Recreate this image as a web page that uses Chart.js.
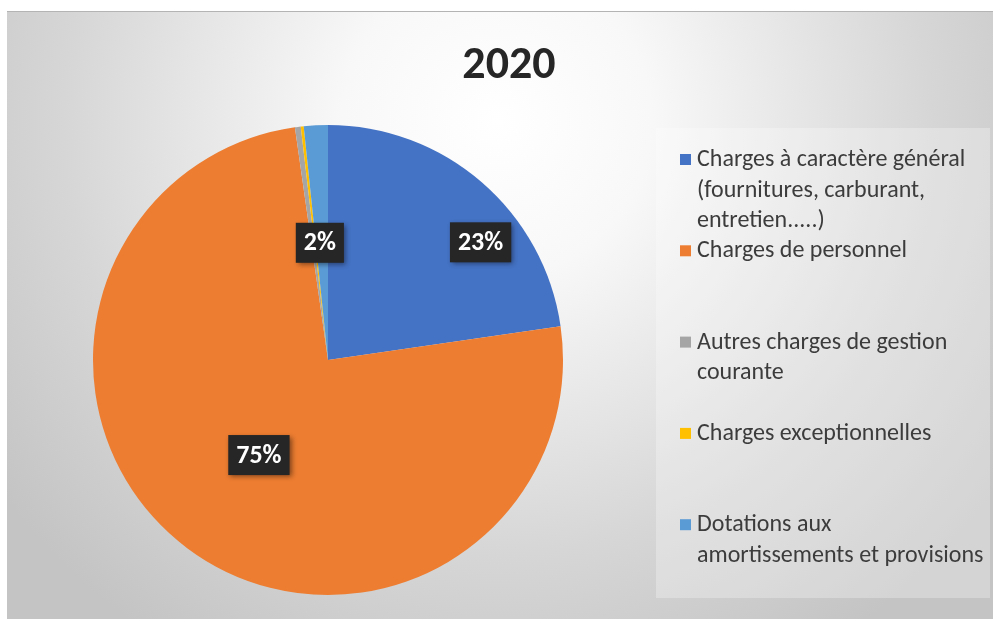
<!DOCTYPE html>
<html>
<head>
<meta charset="utf-8">
<script src="https://cdn.jsdelivr.net/npm/chart.js@4.4.0/dist/chart.umd.min.js"></script>
<style>
html, body { margin: 0; padding: 0; background: #fff; }
#wrap { position: absolute; left: 7px; top: 11px; width: 986px; height: 608px; }
</style>
</head>
<body>
<div id="wrap"><canvas id="myChart"></canvas></div>
<script>
var chartTitle = '2020';
// legend text, one entry per category, already split into lines
var categories = [
  ['Charges à caractère général', '(fournitures, carburant,', 'entretien.....)'],
  ['Charges de personnel'],
  ['Autres charges de gestion', 'courante'],
  ['Charges exceptionnelles'],
  ['Dotations aux', 'amortissements et provisions']
];
var values = [22.7, 75.05, 0.4, 0.2, 1.65];
var colors = ['#4472C4', '#ED7D31', '#A5A5A5', '#FFC000', '#5B9BD5'];
var showLabel = [true, true, false, false, true];

var FONT = 'Carlito, Lato, "Open Sans", sans-serif';

// where the % boxes sit, as fraction of radius and angle tweak (deg)
var labelPlace = [
  { frac: 0.82, shift: 11.5 },
  { frac: 0.50, shift: -0.8 },
  null,
  null,
  { frac: 0.50, shift: -1 }
];

var backdrop = {
  id: 'backdrop',
  beforeDraw: function(chart) {
    var ctx = chart.ctx, w = chart.width, h = chart.height;
    ctx.save();
    var g = ctx.createRadialGradient(490, 110, 0, 490, 110, 620);
    g.addColorStop(0, '#ffffff');
    g.addColorStop(0.25, '#f8f8f8');
    g.addColorStop(0.7, '#d6d6d6');
    g.addColorStop(1, '#c4c4c4');
    ctx.fillStyle = g;
    ctx.fillRect(0, 0, w, h);
    ctx.fillStyle = '#b4b4b4';
    ctx.fillRect(0, 0, w, 1);
    // legend panel
    ctx.fillStyle = 'rgba(255,255,255,0.28)';
    ctx.fillRect(649, 117, 334, 470);
    // title
    ctx.fillStyle = '#262626';
    ctx.font = 'bold 46px ' + FONT;
    ctx.textAlign = 'center';
    ctx.textBaseline = 'middle';
    ctx.fillText(chartTitle, 502, 55);
    ctx.restore();
  },
  afterDraw: function(chart) {
    var ctx = chart.ctx;
    var meta = chart.getDatasetMeta(0);
    ctx.save();
    // percentage boxes
    ctx.font = 'bold 26px ' + FONT;
    ctx.textAlign = 'center';
    ctx.textBaseline = 'middle';
    meta.data.forEach(function(arc, i) {
      if (!showLabel[i]) return;
      var p = labelPlace[i];
      var mid = (arc.startAngle + arc.endAngle) / 2 + p.shift * Math.PI / 180;
      var r = arc.outerRadius * p.frac;
      var x = arc.x + Math.cos(mid) * r;
      var y = arc.y + Math.sin(mid) * r;
      var txt = Math.round(values[i]) + '%';
      var tw = ctx.measureText(txt).width;
      var bw = tw + 16, bh = 40;
      ctx.shadowColor = 'rgba(0,0,0,0.45)';
      ctx.shadowBlur = 5;
      ctx.shadowOffsetX = 2;
      ctx.shadowOffsetY = 2;
      ctx.fillStyle = '#262626';
      ctx.fillRect(x - bw / 2, y - bh / 2, bw, bh);
      ctx.shadowColor = 'transparent';
      ctx.fillStyle = '#ffffff';
      ctx.fillText(txt, x, y + 1);
    });
    // legend
    ctx.font = '24px ' + FONT;
    ctx.textAlign = 'left';
    var y0 = 149, slot = 91.3, lh = 30.5;
    categories.forEach(function(lines, i) {
      var y = y0 + i * slot;
      ctx.fillStyle = colors[i];
      ctx.fillRect(673, y - 6, 11, 11);
      ctx.fillStyle = '#3c3c3c';
      lines.forEach(function(line, j) {
        ctx.fillText(line, 690, y + j * lh);
      });
    });
    ctx.restore();
  }
};

var ctx = document.getElementById('myChart').getContext('2d');
var chart = new Chart(ctx, {
  type: 'pie',
  data: {
    labels: categories,
    datasets: [{
      data: values,
      backgroundColor: colors,
      borderWidth: 0
    }]
  },
  options: {
    responsive: true,
    maintainAspectRatio: false,
    animation: false,
    layout: { padding: { left: 86, right: 430, top: 114, bottom: 24 } },
    plugins: {
      legend: { display: false },
      tooltip: { enabled: false }
    }
  },
  plugins: [backdrop]
});
</script>
</body>
</html>
